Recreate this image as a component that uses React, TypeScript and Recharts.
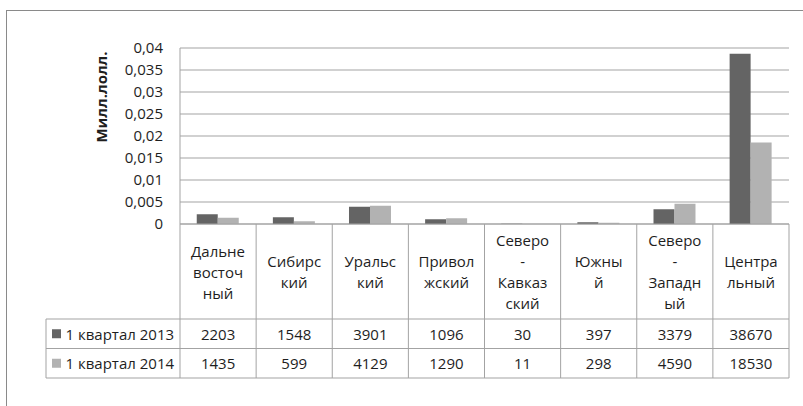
import React from 'react';
import { BarChart, Bar, XAxis, YAxis, CartesianGrid } from 'recharts';

const categoryLines: string[][] = [
  ['Дальне', 'восточ', 'ный'],
  ['Сибирс', 'кий'],
  ['Уральс', 'кий'],
  ['Привол', 'жский'],
  ['Северо', '-', 'Кавказ', 'ский'],
  ['Южны', 'й'],
  ['Северо', '-', 'Западн', 'ый'],
  ['Центра', 'льный'],
];
const seriesNames = ['1 квартал 2013', '1 квартал 2014'];
const q1_2013 = [2203, 1548, 3901, 1096, 30, 397, 3379, 38670];
const q1_2014 = [1435, 599, 4129, 1290, 11, 298, 4590, 18530];
const yTicks = [0, 0.005, 0.01, 0.015, 0.02, 0.025, 0.03, 0.035, 0.04];
const yLabel = 'Милл.лолл.';

const colors = ['#646464', '#b2b2b2'];
const lineColor = '#a3a3a3';
const textColor = '#1e1e1e';
const FONT = "'Open Sans', 'Noto Sans', sans-serif";

const W = 803;
const H = 406;
const PLOT_LEFT = 180;
const PLOT_RIGHT = 789;
const PLOT_TOP = 48;
const AXIS_H = 182;
const HEADER_H = 95;
const ROW_H = 29.5;
const TABLE_LEFT = 46;
const LINE_STEP = 21;

const seriesRaw = [q1_2013, q1_2014];

const data = categoryLines.map((lines, i) => ({
  name: lines.join(''),
  v2013: q1_2013[i] / 1e6,
  v2014: q1_2014[i] / 1e6,
}));

const TableTick = (props: any) => {
  const { x, y, payload } = props;
  const i: number = payload.index;
  const n = categoryLines.length;
  const band = (PLOT_RIGHT - PLOT_LEFT) / n;
  const left = x - band / 2;
  const right = x + band / 2;
  const top = y;
  const headerBottom = top + HEADER_H;
  const tableBottom = headerBottom + ROW_H * seriesRaw.length;
  const lines = categoryLines[i];
  const headerMid = top + HEADER_H / 2;
  const firstY = headerMid - ((lines.length - 1) * LINE_STEP) / 2;
  const els: React.ReactNode[] = [];
  els.push(
    <line key="vl" x1={left} x2={left} y1={top} y2={tableBottom} stroke={lineColor} strokeWidth={1} />
  );
  if (i === n - 1) {
    els.push(
      <line key="vr" x1={right} x2={right} y1={top} y2={tableBottom} stroke={lineColor} strokeWidth={1} />
    );
  }
  lines.forEach((ln, k) => {
    els.push(
      <text key={'h' + k} x={x} y={firstY + k * LINE_STEP} textAnchor="middle" dominantBaseline="central"
        fontSize={15} fill={textColor} fontFamily={FONT}>{ln}</text>
    );
  });
  seriesRaw.forEach((arr, s) => {
    els.push(
      <text key={'v' + s} x={x} y={headerBottom + ROW_H * s + ROW_H / 2} textAnchor="middle" dominantBaseline="central"
        fontSize={15} fill={textColor} fontFamily={FONT}>{arr[i]}</text>
    );
  });
  if (i === 0) {
    const tableRight = left + band * n;
    for (let r = 0; r <= seriesRaw.length; r++) {
      const yy = headerBottom + ROW_H * r;
      els.push(
        <line key={'hl' + r} x1={TABLE_LEFT} x2={tableRight} y1={yy} y2={yy} stroke={lineColor} strokeWidth={1} />
      );
    }
    els.push(
      <line key="tl" x1={TABLE_LEFT} x2={TABLE_LEFT} y1={headerBottom} y2={tableBottom} stroke={lineColor} strokeWidth={1} />
    );
    seriesNames.forEach((nm, s) => {
      const cy = headerBottom + ROW_H * s + ROW_H / 2;
      els.push(
        <rect key={'lg' + s} x={TABLE_LEFT + 6} y={cy - 4.5} width={9} height={9} fill={colors[s]} />
      );
      els.push(
        <text key={'lt' + s} x={TABLE_LEFT + 19.5} y={cy} dominantBaseline="central" fontSize={15}
          fill={textColor} fontFamily={FONT}>{nm}</text>
      );
    });
  }
  return <g>{els}</g>;
};

const YLabel = () => (
  <text x={101} y={97} transform="rotate(-90 101 97)" textAnchor="middle" dominantBaseline="central"
    fontSize={15} fontWeight="bold" fill={textColor} fontFamily={FONT}>{yLabel}</text>
);

export default function App() {
  return (
    <div style={{ position: 'absolute', left: 0, top: 0, width: W, height: H, overflow: 'hidden', background: '#fff', fontFamily: FONT }}>
      <div style={{ position: 'absolute', left: 6, top: 10, width: 1000, height: 1000, borderLeft: '1.5px solid #8a8a8a', borderTop: '1.5px solid #8a8a8a' }} />
      <div style={{ position: 'absolute', left: 0, top: 0 }}>
        <BarChart width={W} height={H} data={data} margin={{ top: PLOT_TOP, right: W - PLOT_RIGHT, bottom: 0, left: 0 }}
          barCategoryGap="22%" barGap={0}>
          <CartesianGrid vertical={false} stroke={lineColor} strokeWidth={1} />
          <XAxis dataKey="name" height={AXIS_H} interval={0} tickLine={false} tickSize={0} tickMargin={0}
            axisLine={{ stroke: lineColor }} tick={<TableTick />} />
          <YAxis width={PLOT_LEFT} domain={[0, 0.04]} ticks={yTicks} interval={0} tickLine={false} tickSize={0} tickMargin={17}
            axisLine={{ stroke: lineColor }} allowDataOverflow
            tickFormatter={(v: number) => String(v).replace('.', ',')}
            tick={{ fontSize: 15, fill: textColor, fontFamily: FONT }}
            label={<YLabel />} />
          <Bar dataKey="v2013" name={seriesNames[0]} fill={colors[0]} isAnimationActive={false} />
          <Bar dataKey="v2014" name={seriesNames[1]} fill={colors[1]} isAnimationActive={false} />
        </BarChart>
      </div>
    </div>
  );
}
